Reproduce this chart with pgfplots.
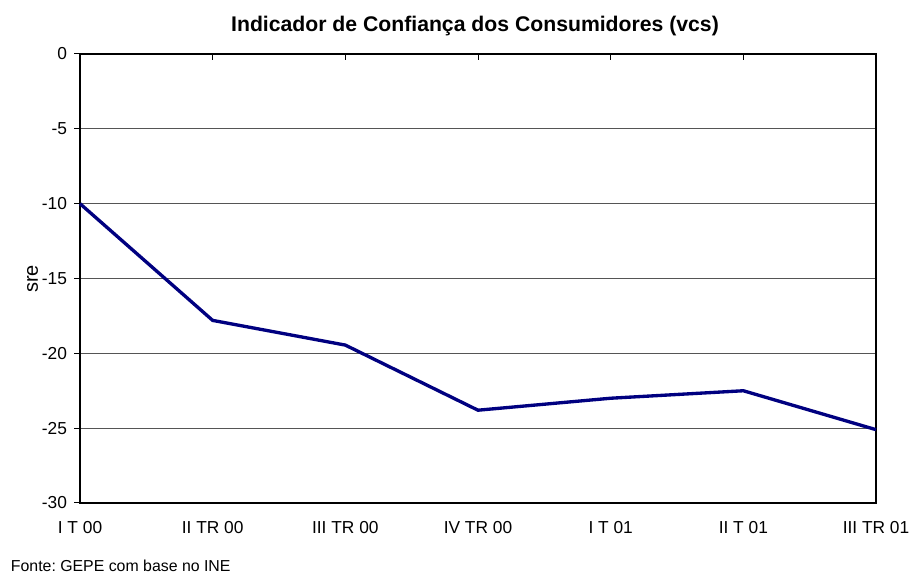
\documentclass[border=0pt]{standalone}
\usepackage{fontspec}
\setmainfont{Liberation Sans}
\usepackage{pgfplots}
\pgfplotsset{compat=1.18}
\definecolor{navyline}{RGB}{0,0,128}
\definecolor{gridc}{RGB}{85,85,85}
\frenchspacing
\begin{document}
\begin{tikzpicture}
\useasboundingbox (-60pt,-53.25pt) rectangle (622.5pt,377.25pt);
\begin{axis}[
  scale only axis,
  width=597pt, height=336.75pt,
  xmin=0, xmax=6, ymin=-30, ymax=0,
  xtick={0,1,2,3,4,5,6},
  xticklabels={I T 00, II TR 00, III TR 00, IV TR 00, I T 01, II T 01, III TR 01},
  ytick={-30,-25,-20,-15,-10,-5,0},
  /pgf/number format/assume math mode=true,
  ymajorgrids,
  major grid style={gridc, line width=0.75pt},
  xtick pos=top, xticklabel pos=bottom,
  ytick pos=left,
  major tick length=4.5pt,
  tick style={black, line width=0.75pt},
  y tick style={xshift=-4.5pt},
  axis line style={black, line width=0.9pt},
  ticklabel style={font=\fontsize{13}{15}\selectfont},
  xticklabel style={yshift=-10.5pt},
  yticklabel style={xshift=-6.2pt},
  clip=false,
]
\addplot[navyline, line width=2.5pt] coordinates {
  (0,-10) (1,-17.8) (2,-19.45) (3,-23.8) (4,-23.0) (5,-22.5) (6,-25.1)
};
\end{axis}
\node[font=\bfseries\fontsize{15.9}{18}\selectfont] at (296.25pt,357.8pt) {Indicador de Confiança dos Consumidores (vcs)};
\node[rotate=90, font=\fontsize{15}{17}\selectfont] at (-35.6pt,168pt) {sre};
\node[anchor=west, inner sep=0pt, font=\fontsize{11.9}{14}\selectfont] at (-52pt,-47pt) {Fonte: GEPE com base no INE};
\end{tikzpicture}
\end{document}
